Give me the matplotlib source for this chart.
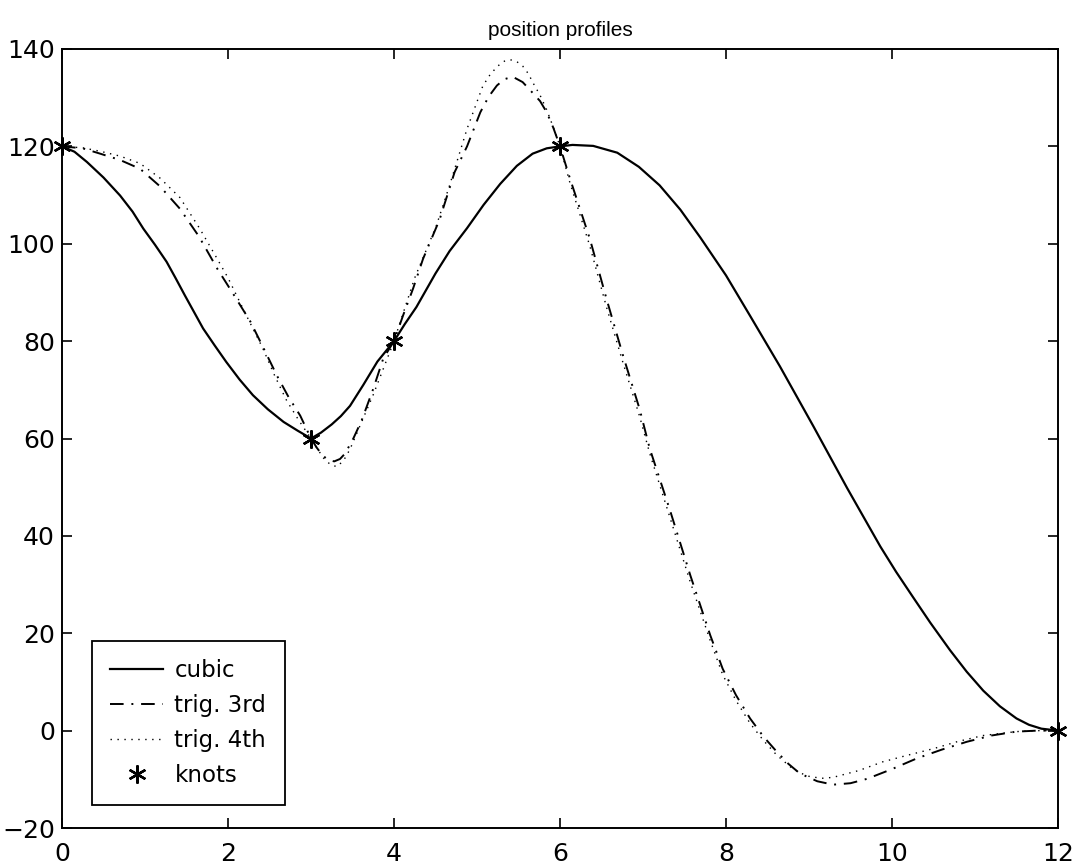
import matplotlib
matplotlib.use("Agg")
import matplotlib.pyplot as plt

# ---- data ----
cubic_x = [0, 0.15, 0.30, 0.50, 0.70, 0.85, 0.98, 1.12, 1.26, 1.37, 1.48, 1.59,
           1.70, 1.84, 1.98, 2.14, 2.30, 2.48, 2.67, 2.84, 3.0,
           3.12, 3.25, 3.36, 3.47, 3.63, 3.80, 3.90, 4.0, 4.13, 4.27, 4.39,
           4.50, 4.67, 4.88, 5.08, 5.28, 5.48, 5.67, 5.84, 6.0,
           6.15, 6.40, 6.69, 6.95, 7.20, 7.45, 7.69, 8.0, 8.29, 8.65, 9.05,
           9.46, 9.86, 10.05, 10.25, 10.46, 10.70, 10.90, 11.10, 11.30, 11.50,
           11.65, 11.80, 12.0]
cubic_y = [120, 118.9, 116.8, 113.6, 109.9, 106.6, 103.1, 99.8, 96.3, 92.9, 89.4,
           86.0, 82.6, 79.1, 75.7, 72.1, 68.9, 66.0, 63.4, 61.6, 60.0,
           61.2, 62.9, 64.6, 66.7, 71.0, 75.8, 77.9, 80.0, 83.5, 87.0, 90.6,
           93.9, 98.5, 103.2, 108.0, 112.3, 116.0, 118.5, 119.6, 120.0,
           120.3, 120.1, 118.7, 115.8, 112.0, 107.0, 101.3, 93.5, 85.2, 74.8, 62.6,
           49.8, 37.8, 32.6, 27.5, 22.2, 16.5, 12.1, 8.2, 5.0, 2.5,
           1.2, 0.4, 0.0]

trig3_x = [0, 0.25, 0.46, 0.70, 0.94, 1.18, 1.42, 1.65, 1.87, 2.07, 2.27, 2.43,
           2.59, 2.73, 2.87, 3.0, 3.07, 3.14, 3.21, 3.28, 3.35, 3.41, 3.51,
           3.61, 3.75, 3.87, 4.0, 4.11, 4.23, 4.35, 4.55, 4.73, 4.88,
           5.04, 5.14, 5.24, 5.33, 5.43, 5.55, 5.67, 5.76, 5.84, 5.92, 6.0,
           6.12, 6.36, 6.56, 6.76, 6.96, 7.08, 7.33, 7.57, 7.81, 7.96, 8.12,
           8.29, 8.45, 8.61, 8.75, 8.89, 9.10, 9.29, 9.50, 9.70, 10.0, 10.3,
           10.6, 10.9, 11.2, 11.5, 11.75, 12.0]
trig3_y = [120, 119.6, 118.5, 117.2, 115.4, 111.8, 107.2, 101.5, 94.9, 89.5,
           84.0, 78.5, 72.9, 68.5, 64.7, 60.0, 58.1, 56.5, 55.6, 55.3, 55.8,
           56.9, 60.0, 63.7, 70.2, 76.4, 80.0, 85.3, 90.8, 96.9, 105.0, 114.7,
           120.0, 127.0, 130.2, 132.5, 133.8, 134.3, 133.2, 131.0, 129.3, 127.0,
           123.8, 120.0, 113.4, 101.0, 88.7, 77.0, 66.0, 58.0, 45.0, 31.9, 19.6,
           12.7, 7.3, 2.5, -1.2, -4.3, -6.8, -8.8, -10.4, -11.1, -10.8, -9.9,
           -7.9, -5.7, -3.9, -2.3, -1.0, -0.2, 0.0, 0.0]

trig4_x = [0, 0.25, 0.46, 0.70, 0.94, 1.18, 1.42, 1.66, 1.85, 2.0, 2.2, 2.42,
           2.56, 2.70, 2.85, 3.0, 3.08, 3.15, 3.23, 3.31, 3.39, 3.47, 3.55,
           3.65, 3.75, 4.0, 4.25, 4.51, 4.67, 4.88, 5.07, 5.16, 5.25, 5.33,
           5.40, 5.48, 5.55, 5.62, 5.67, 5.76, 5.84, 5.92, 6.0,
           6.12, 6.36, 6.56, 6.76, 6.96, 7.08, 7.33, 7.57, 7.81, 7.96, 8.12,
           8.29, 8.45, 8.61, 8.80, 8.97, 9.15, 9.29, 9.60, 9.89, 10.2, 10.5,
           10.8, 11.1, 11.5, 11.75, 12.0]
trig4_y = [120, 119.7, 119.0, 118.0, 116.5, 113.5, 109.5, 103.1, 97.5, 93.0,
           86.0, 78.5, 73.0, 68.0, 63.8, 60.0, 57.8, 56.0, 54.7, 54.2, 55.4,
           57.8, 61.0, 65.0, 69.0, 80.0, 93.0, 103.7, 112.0, 123.6, 132.4,
           134.8, 136.5, 137.5, 137.8, 137.4, 136.5, 134.9, 133.2, 130.5, 127.5,
           123.9, 120.0, 112.5, 99.5, 87.0, 75.5, 64.5, 57.0, 43.5, 30.5, 18.5,
           11.5, 6.2, 1.5, -2.0, -5.0, -7.8, -9.3, -9.8, -9.6, -8.2, -6.4,
           -5.0, -3.7, -2.2, -1.0, -0.2, 0.0, 0.0]

knots_x = [0, 3, 4, 6, 12]
knots_y = [120, 60, 80, 120, 0]

x_ticks = [0, 2, 4, 6, 8, 10, 12]
y_ticks = [-20, 0, 20, 40, 60, 80, 100, 120, 140]

# ---- figure ----
plt.rcParams['font.family'] = ['DejaVu Sans']
fig = plt.figure(figsize=(10.78, 8.68), dpi=100)
ax = fig.add_axes([62/1078, 40/868, 996/1078, 779/868])

ax.plot(cubic_x, cubic_y, color='black', lw=1.6, ls='-', label='cubic',
        solid_joinstyle='round')
ax.plot(trig3_x, trig3_y, color='black', lw=1.4, dashes=(7, 4, 1, 4),
        label='trig. 3rd')
ax.plot(trig4_x, trig4_y, color='black', lw=1.0, dashes=(1, 4),
        label='trig. 4th')
ax.plot(knots_x, knots_y, ls='none', marker=(6, 2, 0), ms=13, mew=1.7,
        color='black', label='knots', clip_on=False, zorder=5)

ax.set_xlim(0, 12)
ax.set_ylim(-20, 140)
ax.set_xticks(x_ticks)
ax.set_yticks(y_ticks)
ax.tick_params(direction='in', length=7, width=1.2, top=True, right=True,
               labelsize=18, pad=5, colors='black')
ax.tick_params(axis='x', pad=10)
for s in ax.spines.values():
    s.set_linewidth(1.4)
    s.set_color('black')

ax.set_title('position profiles', fontsize=15, pad=9,
             family=['Liberation Sans', 'DejaVu Sans'])

leg = ax.legend(loc='lower left', bbox_to_anchor=(0.030, 0.0295),
                borderaxespad=0, fontsize=16.5, frameon=True, fancybox=False,
                framealpha=1, edgecolor='black', handlelength=2.3,
                handletextpad=0.5, labelspacing=0.52, borderpad=0.8)
leg.get_frame().set_linewidth(1.3)

fig.savefig('out.png', dpi=100)
